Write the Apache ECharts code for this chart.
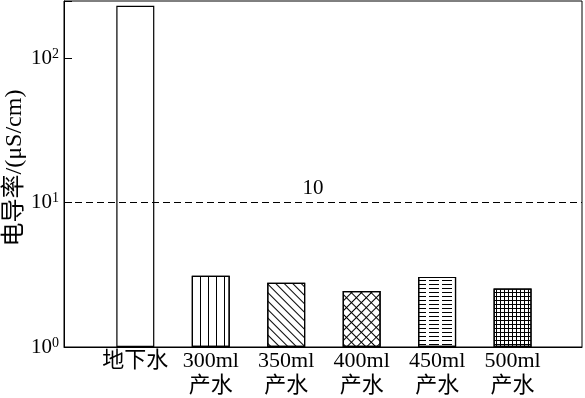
<!DOCTYPE html>
<html>
<head>
<meta charset="utf-8">
<script src="https://cdn.jsdelivr.net/npm/echarts@6/dist/echarts.min.js"></script>
<style>
html,body{margin:0;padding:0;background:#fff;}
#chart{width:585px;height:398px;}
</style>
</head>
<body>
<div id="chart"></div>
<script>
const categories = ['地下水', '300ml\n产水', '350ml\n产水', '400ml\n产水', '450ml\n产水', '500ml\n产水'];
const conductivity = [232, 3.12, 2.79, 2.44, 3.06, 2.54];
const yTicks = [1, 10, 100];
const threshold = 10;

const FONT = "'Times New Roman', 'Liberation Serif', 'Noto Sans CJK SC', serif";

const decals = [
  null,
  { symbol: 'rect', symbolSize: 1, dashArrayX: [1, 7], dashArrayY: [10, 0], color: '#000', backgroundColor: null },
  { symbol: 'rect', symbolSize: 1, dashArrayX: [1, 5], dashArrayY: [10, 0], rotation: -Math.PI / 4, color: '#000', backgroundColor: null },
  { symbol: 'rect', symbolSize: 1, dashArrayX: [[7, 0], [1, 6]], dashArrayY: [1, 0, 6, 0], rotation: Math.PI / 4, color: '#000', backgroundColor: null },
  { symbol: 'rect', symbolSize: 1, dashArrayX: [10, 3], dashArrayY: [1, 3], color: '#000', backgroundColor: null },
  { symbol: 'rect', symbolSize: 1, dashArrayX: [[4, 0], [1, 3]], dashArrayY: [1, 0, 3, 0], color: '#000', backgroundColor: null }
];

const chart = echarts.init(document.getElementById('chart'), null, { renderer: 'canvas' });

const barData = conductivity.map((v, i) => {
  const item = { value: [i, v] };
  if (decals[i]) item.itemStyle = { decal: decals[i] };
  return item;
});

chart.setOption({
  animation: false,
  backgroundColor: '#fff',
  grid: { left: 64, right: 3, top: 1, bottom: 51, show: true, borderColor: '#000', borderWidth: 1, backgroundColor: 'transparent', outerBoundsMode: 'none', containLabel: false },
  xAxis: {
    type: 'value',
    min: -0.945,
    max: 5.92,
    splitLine: { show: false },
    axisLine: { show: true, onZero: false, lineStyle: { color: '#000', width: 1 } },
    axisTick: { show: false },
    axisLabel: {
      customValues: categories.map((c, i) => i),
      formatter: v => categories[Math.round(v)] || '',
      color: '#000',
      fontFamily: FONT,
      fontSize: 22,
      lineHeight: 25,
      margin: 2,
      showMinLabel: true,
      showMaxLabel: true
    }
  },
  yAxis: {
    type: 'log',
    logBase: 10,
    min: 1,
    max: 250,
    name: '电导率/(μS/cm)',
    nameLocation: 'middle',
    nameGap: 37,
    nameMoveOverlap: false,
    nameTextStyle: { color: '#000', fontFamily: FONT, fontSize: 24, padding: [0, 0, 0, 12] },
    splitLine: { show: false },
    minorTick: { show: false },
    axisLine: { show: true, onZero: false, lineStyle: { color: '#000', width: 1 } },
    axisTick: { show: true, inside: true, length: 8, lineStyle: { color: '#000' } },
    axisLabel: {
      customValues: yTicks,
      margin: 5,
      formatter: v => '{b|10}{s|' + Math.round(Math.log10(v)) + '}',
      rich: {
        b: { fontFamily: FONT, fontSize: 21, color: '#000', lineHeight: 22 },
        s: { fontFamily: FONT, fontSize: 14, color: '#000', verticalAlign: 'top', lineHeight: 14 }
      }
    }
  },
  series: [{
    type: 'bar',
    barWidth: 38,
    data: barData,
    itemStyle: { color: '#fff', borderColor: '#000', borderWidth: 1.2 },
    emphasis: { disabled: true },
    markLine: {
      silent: true,
      symbol: 'none',
      data: [{ yAxis: threshold }],
      lineStyle: { color: '#000', type: [7, 4], width: 1 },
      label: {
        show: true,
        position: 'insideMiddleTop',
        formatter: String(threshold),
        color: '#000',
        fontFamily: FONT,
        fontSize: 21,
        distance: 4,
        offset: [-10, 0]
      }
    }
  }]
});
</script>
</body>
</html>
